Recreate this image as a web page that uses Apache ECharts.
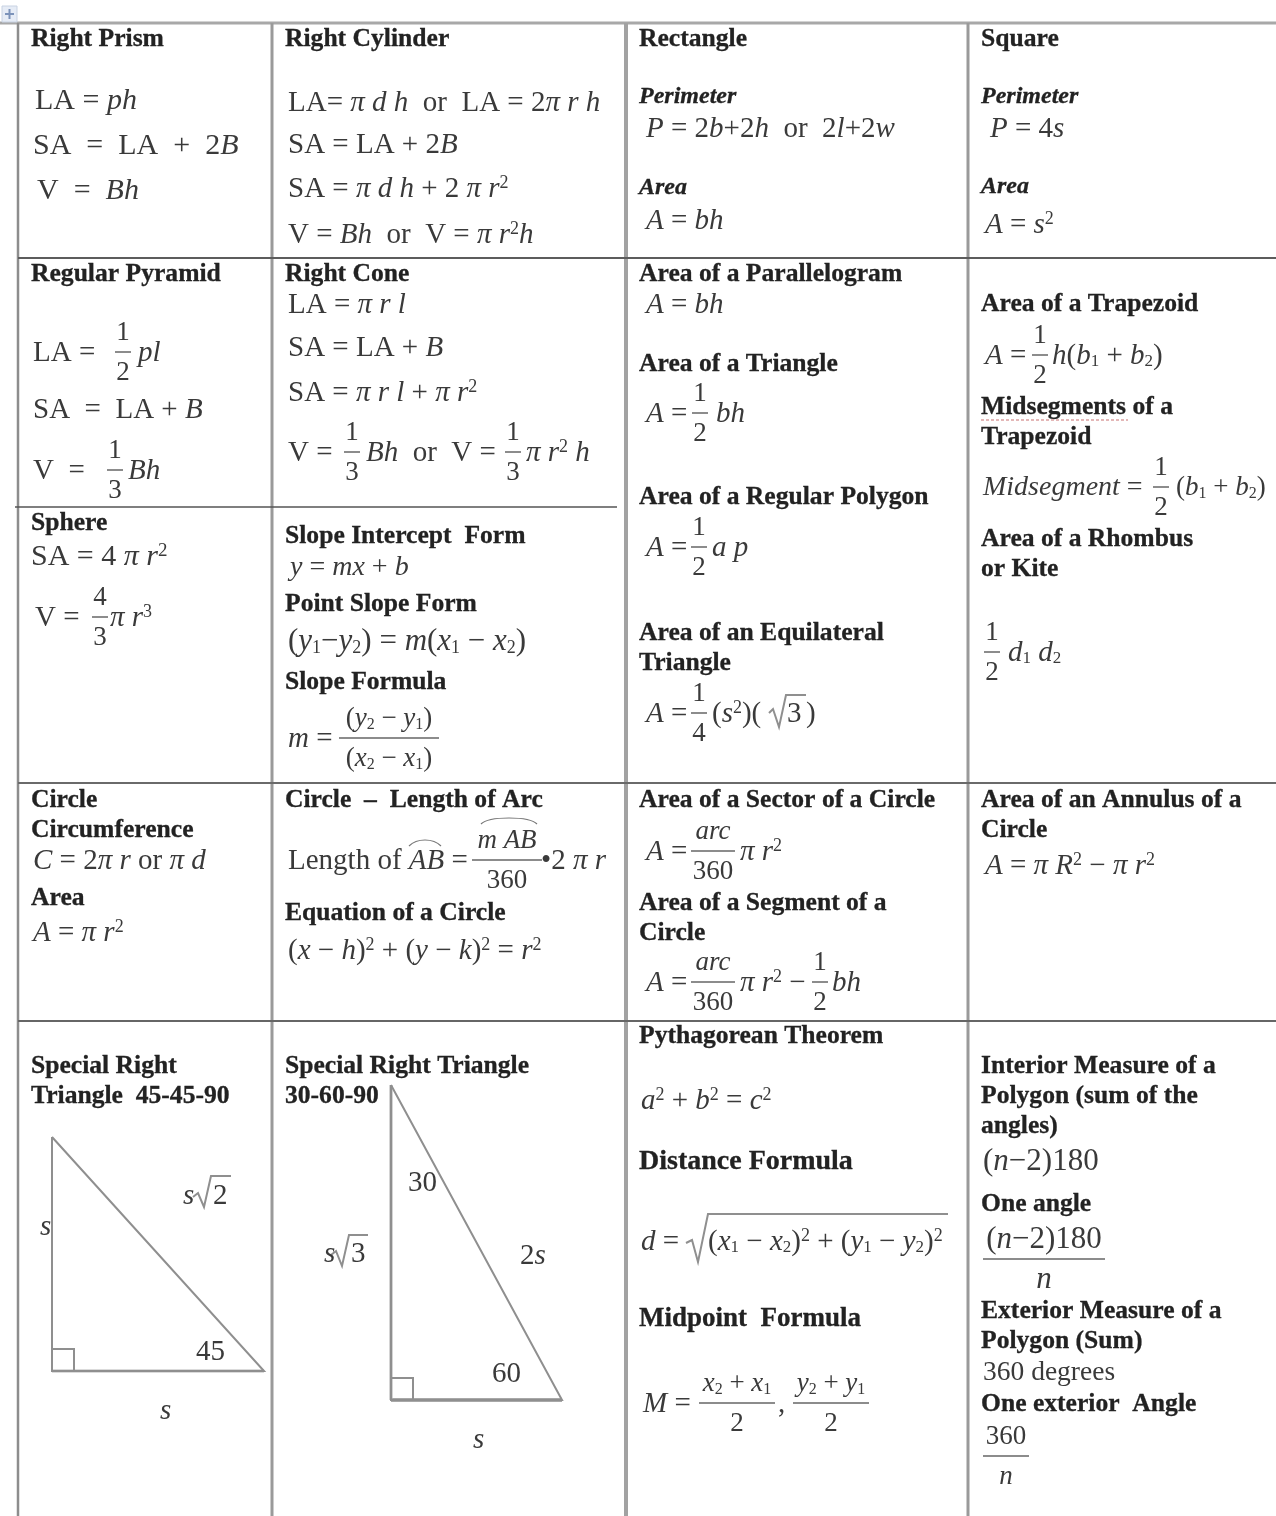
<!DOCTYPE html>
<html><head><meta charset="utf-8">
<style>html,body{margin:0;padding:0;background:#fff}#c{width:1276px;height:1516px;filter:blur(.6px)}</style>
<script src="https://cdn.jsdelivr.net/npm/echarts@6/dist/echarts.min.js"></script></head>
<body><div id="c"></div>
<script>
// [x, centre y, text]
const headings = [
 [31,38,'Right Prism'],[31,273,'Regular Pyramid'],[31,522,'Sphere'],[31,799,'Circle'],[31,829,'Circumference'],[31,897,'Area'],[31,1065,'Special Right'],[31,1095,'Triangle  45-45-90'],
 [285,38,'Right Cylinder'],[285,273,'Right Cone'],[285,535,'Slope Intercept  Form'],[285,603,'Point Slope Form'],[285,681,'Slope Formula'],[285,799,'Circle  –  Length of Arc'],[285,912,'Equation of a Circle'],[285,1065,'Special Right Triangle'],[285,1095,'30-60-90'],
 [639,38,'Rectangle'],[639,273,'Area of a Parallelogram'],[639,363,'Area of a Triangle'],[639,496,'Area of a Regular Polygon'],[639,632,'Area of an Equilateral'],[639,662,'Triangle'],[639,799,'Area of a Sector of a Circle'],[639,902,'Area of a Segment of a'],[639,932,'Circle'],[639,1035,'Pythagorean Theorem'],
 [981,38,'Square'],[981,303,'Area of a Trapezoid'],[981,406,'Midsegments of a'],[981,436,'Trapezoid'],[981,538,'Area of a Rhombus'],[981,568,'or Kite'],[981,799,'Area of an Annulus of a'],[981,829,'Circle'],[981,1065,'Interior Measure of a'],[981,1095,'Polygon (sum of the'],[981,1125,'angles)'],[981,1203,'One angle'],[981,1310,'Exterior Measure of a'],[981,1340,'Polygon (Sum)'],[981,1403,'One exterior  Angle']
];
const largeHeadings = [[639,1161,'Distance Formula',28],[639,1318,'Midpoint  Formula',27]];
const italicHeadings = [[639,96,'Perimeter'],[639,187,'Area'],[981,96,'Perimeter'],[981,186,'Area']];
// [x, centre y, marked-up text, optional size]: {i|} italic, {p|} superscript, {b|} subscript
const formulas = [
 [35,100,'LA = {i|ph}',30],[33,145,'SA  =  LA  +  2{i|B}',30],[37,190,'V  =  {i|Bh}',30],
 [33,352,'LA ='],[138,352,'{i|pl}'],[33,409,'SA  =  LA + {i|B}'],[33,470,'V  ='],[128,470,'{i|Bh}'],
 [31,556,'SA = 4 {i|π r}{p|2}',30],[35,617,'V ='],[110,617,'{i|π r}{p|3}'],
 [33,860,'{i|C} = 2{i|π r} or {i|π d}'],[33,932,'{i|A} = {i|π r}{p|2}'],
 [288,102,'LA= {i|π d h}  or  LA = 2{i|π r h}'],[288,144,'SA = LA + 2{i|B}'],[288,188,'SA = {i|π d h} + 2 {i|π r}{p|2}'],[288,234,'V = {i|Bh}  or  V = {i|π r}{p|2}{i|h}'],
 [288,304,'LA = {i|π r l}'],[288,347,'SA = LA + {i|B}'],[288,392,'SA = {i|π r l} + {i|π r}{p|2}'],
 [288,452,'V ='],[366,452,'{i|Bh}  or  V ='],[526,452,'{i|π r}{p|2}{i| h}'],
 [290,567,'{i|y} = {i|mx} + {i|b}',28],[288,641,'({i|y}{b|1}−{i|y}{b|2}) = {i|m}({i|x}{b|1} − {i|x}{b|2})',31],[288,738,'{i|m} ='],
 [288,860,'Length of {i|AB} ='],[541,860,'•2 {i|π r}'],[288,950,'({i|x} − {i|h}){p|2} + ({i|y} − {i|k}){p|2} = {i|r}{p|2}'],
 [646,128,'{i|P} = 2{i|b}+2{i|h}  or  2{i|l}+2{i|w}'],[646,220,'{i|A} = {i|bh}'],[646,304,'{i|A} = {i|bh}'],
 [646,413,'{i|A} ='],[716,413,'{i|bh}'],[646,547,'{i|A} ='],[712,547,'{i|a p}'],[646,713,'{i|A} ='],[712,713,'({i|s}{p|2})('],[787,713,'3'],[806,713,')'],
 [646,851,'{i|A} ='],[740,851,'{i|π r}{p|2}'],[646,982,'{i|A} ='],[740,982,'{i|π r}{p|2} −'],[832,982,'{i|bh}'],
 [641,1100,'{i|a}{p|2} + {i|b}{p|2} = {i|c}{p|2}'],[641,1241,'{i|d} ='],[708,1241,'({i|x}{b|1} − {i|x}{b|2}){p|2} + ({i|y}{b|1} − {i|y}{b|2}){p|2}'],
 [643,1403,'{i|M} ='],[778,1403,','],
 [990,128,'{i|P} = 4{i|s}'],[985,224,'{i|A} = {i|s}{p|2}'],[985,355,'{i|A} ='],[1052,355,'{i|h}({i|b}{b|1} + {i|b}{b|2})'],
 [983,487,'{i|Midsegment} =',28],[1176,487,'({i|b}{b|1} + {i|b}{b|2})',27],[1008,652,'{i|d}{b|1} {i|d}{b|2}'],[985,865,'{i|A} = {i|π R}{p|2} − {i|π r}{p|2}'],
 [983,1161,'({i|n}−2)180',31],[983,1372,'360 degrees',27.5],
 [40,1226,'{i|s}'],[183,1195,'{i|s}'],[196,1351,'45'],[160,1410,'{i|s}'],
 [408,1182,'30'],[324,1253,'{i|s}'],[520,1255,'2{i|s}'],[492,1373,'60'],[473,1439,'{i|s}']
];
// [centre x, rule y, numerator, denominator, rule half width, optional size]
const fractions = [
 [123,352,'1','2',8],[115,470,'1','3',8],[100,617,'4','3',8],[352,452,'1','3',8],[513,452,'1','3',8],
 [389,738,'({i|y}{b|2} − {i|y}{b|1})','({i|x}{b|2} − {i|x}{b|1})',50],[507,860,'{i|m AB}','360',35],
 [700,413,'1','2',8],[699,547,'1','2',8],[699,713,'1','4',8],[713,851,'{i|arc}','360',22],[713,982,'{i|arc}','360',22],[820,982,'1','2',8],
 [737,1403,'{i|x}{b|2} + {i|x}{b|1}','2',38],[831,1403,'{i|y}{b|2} + {i|y}{b|1}','2',38],
 [1040,355,'1','2',8],[1161,487,'1','2',8],[992,652,'1','2',8],
 [1044,1259,'({i|n}−2)180','{i|n}',61,31],[1006,1456,'360','{i|n}',23]
];
// [x1,y1,x2,y2,width,colour]
const rules = [
 [0,23,1276,23,3,'#a8a8a8'],[18,23,18,1516,2.5,'#8d8d8d'],[272,23,272,1516,3,'#9a9a9a'],[626,23,626,1516,4,'#a2a2a2'],[968,23,968,1516,3,'#9a9a9a'],
 [18,258,1276,258,2,'#5c5c5c'],[18,783,1276,783,2,'#6a6a6a'],[18,1021,1276,1021,2,'#666'],[15,507,617,507,1.5,'#555'],
 [52,1371,264,1371,2.5,'#707070'],[391,1400,562,1400,4,'#a8a8a8'],[391,1085,391,1400,3,'#aaa']
];
// polylines: triangles, right-angle boxes and radical signs
const polylines = [
 [[52,1137],[52,1371],[264,1371],[52,1137]],[[52,1349],[74,1349],[74,1371]],
 [[391,1085],[391,1400],[562,1400],[391,1085]],[[391,1378],[413,1378],[413,1400]],
 [[193,1197],[198,1193],[204,1207],[211,1176],[231,1176]],[[331,1255],[336,1251],[342,1266],[349,1235],[368,1235]],
 [[769,713],[773,709],[779,727],[786,695],[806,695]],
 [[686,1243],[692,1240],[698,1262],[708,1214],[948,1214]]
];
const radicands = [[213,1195,'2'],[351,1253,'3']];
const fontSerif = '"Liberation Serif","Times New Roman",serif';
const ink = '#3a3a3a', headInk = '#222';

function rich(sz){
 const base={fontFamily:fontSerif,fontSize:sz,fill:ink};
 return {
  r:base,
  i:Object.assign({},base,{fontStyle:'italic'}),
  p:Object.assign({},base,{fontSize:Math.round(sz*.62),verticalAlign:'top'}),
  b:Object.assign({},base,{fontSize:Math.round(sz*.58),verticalAlign:'bottom'})
 };
}
function mark(t){return t.replace(/(^|\})([^{}]+)(?=\{|$)/g,(m,a,b)=>a+'{r|'+b+'}');}
function mtext(x,y,t,sz,align){
 return {type:'text',x:x,y:y+1,silent:true,style:{text:mark(t),rich:rich(sz),align:align||'left',verticalAlign:'middle',fontFamily:fontSerif,fontSize:sz,fill:ink}};
}
function head(h,sz,italic){
 return {type:'text',x:h[0],y:h[1]+1,silent:true,style:{text:h[2],fontFamily:fontSerif,fontWeight:'bold',fontStyle:italic?'italic':'normal',fontSize:sz,fill:headInk,stroke:headInk,lineWidth:.3,verticalAlign:'middle'}};
}
function line(p,w,c){return {type:'polyline',silent:true,shape:{points:p},style:{stroke:c||'#8a8a8a',lineWidth:w||2,fill:null}};}
const els=[];
rules.forEach(r=>els.push({type:'line',silent:true,shape:{x1:r[0],y1:r[1],x2:r[2],y2:r[3]},style:{stroke:r[5],lineWidth:r[4]}}));
polylines.forEach(p=>els.push(line(p,2,'#8f8f8f')));
headings.forEach(h=>els.push(head(h,25.6)));
largeHeadings.forEach(h=>els.push(head(h,h[3])));
italicHeadings.forEach(h=>els.push(head(h,24,true)));
formulas.forEach(f=>els.push(mtext(f[0],f[1],f[2],f[3]||29)));
radicands.forEach(f=>els.push(mtext(f[0],f[1],f[2],29)));
fractions.forEach(f=>{
 els.push(mtext(f[0],f[1]-20,f[2],f[5]||27,'center'));
 els.push(mtext(f[0],f[1]+20,f[3],f[5]||27,'center'));
 els.push({type:'line',silent:true,shape:{x1:f[0]-f[4],y1:f[1],x2:f[0]+f[4],y2:f[1]},style:{stroke:'#666',lineWidth:1.5}});
});
// arcs over AB
[[409,846,441,846],[481,824,537,824]].forEach(a=>els.push({type:'bezierCurve',silent:true,shape:{x1:a[0],y1:a[1],x2:a[2],y2:a[3],cpx1:a[0]+8,cpy1:a[1]-8,cpx2:a[2]-8,cpy2:a[3]-8},style:{stroke:'#777',lineWidth:1.2,fill:null}}));
// spell-check underline and corner handle icon
els.push({type:'line',silent:true,shape:{x1:981,y1:420,x2:1128,y2:420},style:{stroke:'#dba0a0',lineWidth:1.5,lineDash:[3,2]}});
els.push({type:'rect',silent:true,shape:{x:2,y:6,width:15,height:16},style:{fill:'#e6ecf6',stroke:'#c8d2e2',lineWidth:1}});
els.push(line([[9.5,9],[9.5,19]],2,'#7c93ba'));
els.push(line([[5,14],[14,14]],2,'#7c93ba'));
const chart=echarts.init(document.getElementById('c'),null,{renderer:'canvas',width:1276,height:1516});
chart.setOption({animation:false,backgroundColor:'#fff',graphic:{elements:els}});
</script></body></html>
